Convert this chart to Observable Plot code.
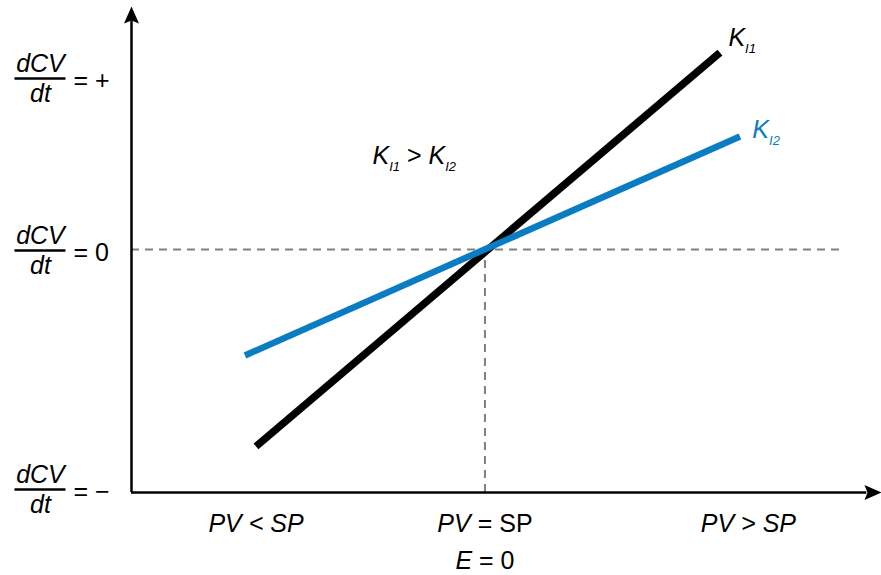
<!DOCTYPE html>
<html>
<head>
<meta charset="utf-8">
<script src="https://cdn.jsdelivr.net/npm/d3@7"></script>
<script src="https://cdn.jsdelivr.net/npm/@observablehq/plot@0.6"></script>
<style>
  body { margin: 0; background: #fff; }
  svg { display: block; }
</style>
</head>
<body>
<div id="chart"></div>
<script>
// ---------- data (error E = PV - SP on x, dCV/dt on y) ----------
const kI1Error = [-1.328, 1.363];
const kI1Rate  = [-1.145, 1.145];
const kI2Error = [-1.392, 1.479];
const kI2Rate  = [-0.616, 0.657];

const yTickValues = [1, 0, -1.39];
const yTickSigns  = ["+", "0", "\u2212"];

const xTickValues = [-1.328, 0, 1.528];
const xTickLabels = ["*PV < SP*", "*PV* = SP", "*PV > SP*"];
const setpointNote = "*E* = 0";

const lineLabels   = ["*K*_{I1}", "*K*_{I2}"];
const lineLabelX   = [1.412, 1.551];
const lineLabelY   = [1.186, 0.651];
const compareLabel = "*K*_{I1} > *K*_{I2}";
const compareX = -0.652, compareY = 0.5;

// ---------- layout helpers ----------
const xMin = -2.05, xMax = 2.30, yMin = -1.413, yMax = 1.413;
const labelX = -2.578, eqX = -2.386;
const xLabelY = -1.64, noteY = -1.86;
const BLUE = "#0a7dc2", GRAY = "#808080";
const FS = 25;

const kI1 = kI1Error.map((e, i) => ({e, rate: kI1Rate[i]}));
const kI2 = kI2Error.map((e, i) => ({e, rate: kI2Rate[i]}));

// filled arrowhead, tip at origin, pointing up
const arrowHead = {
  draw(ctx) {
    ctx.moveTo(0, 0);
    ctx.lineTo(-7.5, 17);
    ctx.lineTo(0, 14);
    ctx.lineTo(7.5, 17);
    ctx.closePath();
  }
};

const plot = Plot.plot({
  width: 881,
  height: 575,
  marginLeft: 131,
  marginRight: 0,
  marginTop: 6,
  marginBottom: 83,
  x: {domain: [xMin, xMax], axis: null},
  y: {domain: [yMin, yMax], axis: null},
  style: {fontFamily: "'Liberation Sans', Arial, sans-serif", background: "white", color: "black"},
  marks: [
    // dashed guides
    Plot.ruleY([0], {x1: xMin, x2: 2.08, stroke: GRAY, strokeWidth: 2, strokeDasharray: "8,6"}),
    Plot.ruleX([0], {y1: yMin, y2: 0, stroke: GRAY, strokeWidth: 2, strokeDasharray: "8,6"}),
    // axes
    Plot.ruleX([xMin], {y1: yMin, y2: yMax - 0.085, stroke: "black", strokeWidth: 2.5}),
    Plot.ruleY([yMin], {x1: xMin, x2: xMax - 0.085, stroke: "black", strokeWidth: 2.5}),
    Plot.dot([{x: xMin, y: yMax, r: 0}, {x: xMax, y: yMin, r: 90}],
      {x: "x", y: "y", rotate: "r", symbol: arrowHead, fill: "black", stroke: "none", r: 8}),
    // lines
    Plot.line(kI1, {x: "e", y: "rate", stroke: "black", strokeWidth: 7.5, strokeLinecap: "butt"}),
    Plot.line(kI2, {x: "e", y: "rate", stroke: BLUE, strokeWidth: 6.5, strokeLinecap: "butt"}),
    // y labels (fractions)
    Plot.ruleY(yTickValues, {x1: labelX - 0.148, x2: labelX + 0.148, stroke: "black", strokeWidth: 2.5, dy: 1}),
    Plot.text(yTickValues, {x: labelX, y: d => d, text: () => "dCV", fontStyle: "italic", fontSize: FS, lineAnchor: "bottom", dy: -6}),
    Plot.text(yTickValues, {x: labelX, y: d => d, text: () => "dt", fontStyle: "italic", fontSize: FS, lineAnchor: "bottom", dy: 24}),
    Plot.text(yTickValues, {x: eqX, y: d => d, text: (d, i) => "= " + yTickSigns[i], textAnchor: "start", fontSize: FS, dy: 3}),
    // x labels
    Plot.text(xTickValues, {x: d => d, y: xLabelY, text: (d, i) => xTickLabels[i], fontSize: FS, lineAnchor: "bottom"}),
    Plot.text([setpointNote], {x: 0, y: noteY, text: d => d, fontSize: FS, lineAnchor: "bottom"}),
    // line labels
    Plot.text(lineLabels, {x: (d, i) => lineLabelX[i], y: (d, i) => lineLabelY[i], text: d => d,
      fill: (d, i) => i === 0 ? "black" : BLUE, textAnchor: "start", fontSize: 25, lineAnchor: "bottom"}),
    Plot.text([compareLabel], {x: compareX, y: compareY, text: d => d, textAnchor: "start", fontSize: 25, lineAnchor: "bottom"})
  ]
});

// simple rich text: *italic* and _{subscript}
function richify(svg) {
  const NS = "http://www.w3.org/2000/svg";
  d3.select(svg).selectAll("text").each(function () {
    const s = this.textContent;
    if (!/[*_]/.test(s)) return;
    const parts = s.match(/\*[^*]+\*|_\{[^}]+\}|[^*_]+/g);
    while (this.firstChild) this.removeChild(this.firstChild);
    let shifted = false;
    for (const p of parts) {
      const ts = document.createElementNS(NS, "tspan");
      if (p.startsWith("_{")) {
        ts.textContent = p.slice(2, -1);
        ts.setAttribute("font-size", "13");
        ts.setAttribute("font-style", "italic");
        ts.setAttribute("dy", "7");
        shifted = true;
      } else {
        if (shifted) { ts.setAttribute("dy", "-7"); shifted = false; }
        if (p.startsWith("*")) {
          ts.textContent = p.slice(1, -1);
          ts.setAttribute("font-style", "italic");
        } else {
          ts.textContent = p;
        }
      }
      this.appendChild(ts);
    }
  });
}
richify(plot);
document.getElementById("chart").append(plot);
</script>
</body>
</html>
